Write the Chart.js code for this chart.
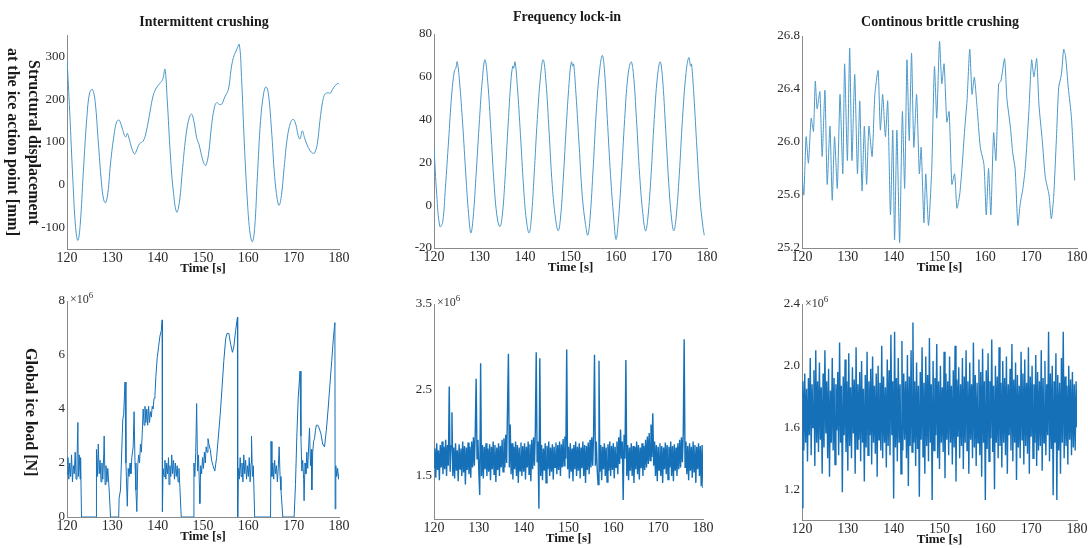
<!DOCTYPE html>
<html>
<head>
<meta charset="utf-8">
<title>Ice-structure interaction regimes</title>
<script src="https://cdn.jsdelivr.net/npm/chart.js@4.4.0/dist/chart.umd.min.js"></script>
<style>
  html, body { margin: 0; padding: 0; background: #fff; }
  #page { position: relative; width: 1088px; height: 548px; overflow: hidden; font-family: "Liberation Serif", "DejaVu Serif", serif; color: #1a1a1a; }
  canvas { position: absolute; }
  .ttl { position: absolute; width: 300px; text-align: center; font-weight: bold; font-size: 14px; line-height: 18px; }
  .ylab { position: absolute; writing-mode: vertical-rl; text-align: center; font-weight: bold; font-size: 16px; line-height: 21px; }
  .exp { position: absolute; font-size: 12px; color: #333; line-height: 14px; }
  .exp sup { font-size: 9px; }
</style>
</head>
<body>
<div id="page">
  <canvas id="dispInt"></canvas>
  <canvas id="dispLock"></canvas>
  <canvas id="dispCbr"></canvas>
  <canvas id="loadInt"></canvas>
  <canvas id="loadLock"></canvas>
  <canvas id="loadCbr"></canvas>

  <div class="ttl" style="left:54px; top:13px;">Intermittent crushing</div>
  <div class="ttl" style="left:417px; top:8px;">Frequency lock-in</div>
  <div class="ttl" style="left:790px; top:13px;">Continous brittle crushing</div>

  <div class="ylab" style="left:3px; top:30px; width:42px; height:224px;">Structural displacement<br>at the ice action point [mm]</div>
  <div class="ylab" style="left:21px; top:300px; width:21px; height:224px;">Global ice load [N]</div>

  <div class="exp" style="left:70px; top:288px;">×10<sup>6</sup></div>
  <div class="exp" style="left:437px; top:291px;">×10<sup>6</sup></div>
  <div class="exp" style="left:805px; top:292px;">×10<sup>6</sup></div>
</div>

<script>
// ---- data: [time s, value] ----
const timeTicks = [120, 130, 140, 150, 160, 170, 180];

// top row: structural displacement
const dispIntTicks = [-100, 0, 100, 200, 300];
const dispIntermittent = [
  [120.0, 295], [120.6, 170], [121.3, 10], [121.9, -100], [122.4, -130], [122.9, -95], [123.6, 30],
  [124.4, 160], [125.0, 215], [125.6, 223], [126.2, 195], [126.9, 100], [127.6, 5], [128.1, -35],
  [128.5, -42], [129.0, -20], [129.7, 60], [130.5, 125], [131.0, 148], [131.5, 151], [132.1, 135],
  [132.7, 115], [133.0, 112], [133.3, 120], [133.7, 108], [134.3, 85], [134.9, 72], [135.4, 82],
  [136.0, 96], [136.8, 102], [137.5, 125], [138.3, 170], [139.0, 208], [139.7, 226], [140.4, 236],
  [141.1, 246], [141.6, 270], [142.1, 200], [142.8, 70], [143.5, -20], [144.2, -64], [144.8, -40],
  [145.5, 40], [146.3, 120], [147.0, 158], [147.5, 165], [148.0, 148], [148.6, 110], [149.1, 95],
  [149.7, 68], [150.2, 50], [150.6, 45], [151.2, 70], [151.9, 140], [152.5, 180], [153.0, 192],
  [153.6, 188], [154.1, 188], [154.8, 205], [155.6, 223], [156.2, 270], [156.7, 297], [157.4, 315],
  [158.0, 328], [158.5, 250], [159.1, 100], [159.8, -40], [160.4, -115], [160.9, -133], [161.4, -100],
  [162.0, 20], [162.7, 150], [163.4, 215], [163.9, 229], [164.4, 215], [165.1, 130], [165.8, 20],
  [166.4, -35], [166.8, -48], [167.3, -25], [167.9, 40], [168.6, 110], [169.3, 145], [169.9, 153],
  [170.5, 140], [171.0, 115], [171.4, 107], [171.9, 126], [172.4, 110], [172.9, 95], [173.6, 80],
  [174.2, 74], [174.6, 74], [175.2, 95], [175.8, 150], [176.4, 195], [176.9, 212], [177.6, 215],
  [178.1, 214], [178.5, 222], [179.2, 232], [179.7, 237], [180.0, 235]
];

const dispLockTicks = [-20, 0, 20, 40, 60, 80];
const dispLockIn = [
  [120.0, 27], [120.6, 5], [121.3, -10], [121.9, -8], [122.5, 8], [123.2, 30], [123.9, 52], [124.5, 63],
  [124.8, 64], [125.1, 67], [125.6, 58], [126.3, 38], [127.0, 14], [127.6, -4], [128.1, -13], [128.6, -6],
  [129.3, 16], [130.0, 40], [130.6, 58], [131.2, 68], [131.8, 58], [132.5, 35], [133.2, 10], [133.9, -6],
  [134.5, -10], [135.0, -5], [135.6, 12], [136.3, 38], [136.9, 58], [137.3, 65], [137.5, 64], [137.8, 67],
  [138.3, 56], [139.0, 33], [139.7, 8], [140.3, -7], [140.9, -13], [141.4, -6], [142.0, 14], [142.7, 40],
  [143.4, 60], [144.0, 68], [144.6, 58], [145.3, 34], [146.0, 9], [146.7, -6], [147.3, -12], [147.8, -6],
  [148.4, 12], [149.1, 38], [149.8, 60], [150.2, 67], [150.5, 65], [150.7, 66], [151.2, 52], [151.9, 28],
  [152.6, 4], [153.3, -9], [153.8, -14], [154.3, -6], [155.0, 18], [155.7, 45], [156.4, 63], [157.0, 70],
  [157.5, 62], [158.1, 40], [158.8, 14], [159.5, -6], [160.0, -16], [160.5, -8], [161.2, 14], [161.9, 40],
  [162.6, 60], [163.3, 67], [163.8, 62], [164.5, 40], [165.2, 14], [165.9, -4], [166.5, -12], [167.0, -6],
  [167.7, 14], [168.4, 40], [169.1, 60], [169.7, 67], [170.2, 60], [170.9, 36], [171.6, 10], [172.2, -6],
  [172.7, -12], [173.2, -6], [173.9, 14], [174.6, 40], [175.4, 62], [176.0, 69], [176.4, 65], [176.6, 66],
  [177.1, 52], [177.8, 26], [178.5, 2], [179.1, -10], [179.4, -14]
];

const dispCbrTicks = [25.2, 25.6, 26.0, 26.4, 26.8];
const dispContinuous = [
  [120.0, 25.76], [120.4, 25.6], [120.9, 26.04], [121.4, 25.84], [122.0, 26.18], [122.5, 26.08], [122.9, 26.46],
  [123.3, 26.25], [123.9, 26.38], [124.4, 25.89], [125.0, 26.39], [125.5, 25.68], [126.1, 26.12], [126.6, 25.56],
  [127.1, 26.04], [127.7, 25.65], [128.3, 26.36], [128.9, 25.76], [129.3, 26.59], [129.9, 25.86], [130.4, 26.71],
  [130.9, 25.86], [131.5, 26.51], [132.1, 25.76], [132.6, 26.31], [133.1, 25.63], [133.6, 26.12], [134.1, 25.68],
  [134.6, 26.12], [135.3, 25.89], [135.9, 26.36], [136.6, 26.54], [137.1, 26.09], [137.6, 26.36], [138.2, 26.04],
  [138.7, 26.31], [139.3, 25.45], [139.8, 26.09], [140.2, 25.26], [140.7, 26.09], [141.3, 25.24], [141.9, 26.23],
  [142.4, 25.65], [142.9, 26.62], [143.4, 26.01], [143.9, 26.67], [144.4, 25.96], [145.0, 26.36], [145.6, 25.76],
  [146.0, 25.96], [146.6, 25.39], [147.0, 25.76], [147.6, 25.37], [148.3, 25.79], [148.9, 26.57], [149.4, 26.18],
  [150.0, 26.76], [150.5, 26.44], [151.0, 26.59], [151.6, 26.15], [152.1, 26.23], [152.7, 25.68], [153.3, 25.76],
  [153.8, 25.5], [154.4, 25.6], [154.9, 25.8], [155.5, 26.1], [156.0, 26.31], [156.6, 26.7], [157.1, 26.36],
  [157.6, 26.49], [158.2, 26.26], [158.9, 25.96], [159.7, 25.83], [160.2, 25.45], [160.7, 25.8], [161.2, 25.45],
  [161.8, 26.07], [162.3, 25.86], [162.9, 26.44], [163.4, 26.46], [164.2, 26.63], [164.7, 26.33], [165.5, 26.1],
  [166.0, 25.91], [166.5, 25.8], [167.1, 25.37], [167.6, 25.53], [168.2, 25.65], [168.7, 25.8], [169.5, 26.23],
  [170.1, 26.62], [170.6, 26.49], [171.2, 26.63], [171.7, 26.28], [172.4, 26.02], [173.1, 25.73], [173.9, 25.6],
  [174.4, 25.42], [174.9, 25.58], [175.5, 26.02], [176.0, 26.41], [176.6, 26.51], [177.1, 26.7], [177.5, 26.65],
  [178.1, 26.41], [178.8, 26.18], [179.5, 25.71]
];

// bottom row: global ice load, in units of 1e6 N
const loadIntTicks = [0, 2, 4, 6, 8];
const loadIntermittent = [
  [120.0, 1.6], [120.2, 2.2], [120.4, 1.4], [120.6, 2.0], [120.8, 1.5], [121.0, 2.3], [121.2, 1.3], [121.4, 1.9],
  [121.6, 1.6], [121.8, 2.4], [122.0, 1.4], [122.2, 2.1], [122.4, 3.5], [122.5, 1.5], [122.7, 2.3], [122.9, 1.4],
  [123.0, 2.2], [123.2, 0],
  [126.4, 0], [126.5, 2.5], [126.7, 1.5], [126.9, 2.7], [127.1, 1.6], [127.3, 2.1], [127.5, 1.3], [127.7, 2.0],
  [127.9, 1.4], [128.1, 2.3], [128.2, 3.0], [128.4, 1.2], [128.6, 1.9], [128.8, 1.3], [129.0, 1.8], [129.3, 1.0],
  [129.6, 0],
  [131.4, 0], [131.5, 0.7], [131.8, 1.0], [132.3, 3.6], [132.5, 3.8], [132.8, 5.0], [133.0, 2.0], [133.1, 1.5],
  [133.3, 0.4], [133.5, 1.8], [133.7, 1.5], [133.9, 2.0], [134.1, 1.6], [134.3, 2.2], [134.6, 2.6], [134.8, 3.9],
  [135.0, 2.0], [135.2, 1.0], [135.4, 0.2], [135.6, 1.9], [135.8, 2.3], [136.0, 2.0], [136.2, 2.7], [136.4, 2.4],
  [136.6, 3.1], [136.8, 4.0], [137.0, 3.4], [137.2, 4.1], [137.4, 3.5], [137.6, 4.0], [137.8, 3.4], [138.0, 4.1],
  [138.2, 3.5], [138.4, 3.9], [138.6, 3.7], [138.8, 4.1], [139.0, 4.0], [139.2, 4.4], [139.4, 4.5], [139.6, 5.2],
  [139.9, 5.9], [140.2, 6.3], [140.5, 6.7], [140.8, 6.9], [141.0, 7.3], [141.05, 0.2],
  [141.2, 1.8], [141.4, 1.5], [141.6, 2.1], [141.8, 1.4], [142.0, 2.0], [142.2, 1.6], [142.4, 2.2], [142.5, 1.2],
  [142.7, 1.9], [142.9, 1.5], [143.1, 2.3], [143.3, 1.6], [143.5, 2.1], [143.7, 1.4], [143.9, 2.0], [144.1, 1.5],
  [144.3, 1.9], [144.5, 1.3], [144.7, 1.8], [144.9, 1.1], [145.2, 0],
  [147.9, 0], [148.0, 2.0], [148.2, 1.5], [148.4, 2.4], [148.6, 4.2], [148.8, 1.7], [149.0, 2.3], [149.2, 1.2],
  [149.3, 0.5], [149.5, 1.9], [149.7, 1.6], [149.9, 2.2], [150.1, 1.8], [150.3, 2.4], [150.5, 2.0], [150.7, 2.6],
  [150.9, 2.4], [151.1, 2.9], [151.3, 2.7], [151.6, 2.5], [151.9, 2.1], [152.2, 1.9], [152.6, 1.7], [153.0, 2.2],
  [153.4, 3.0], [153.8, 3.8], [154.2, 4.8], [154.6, 5.8], [155.0, 6.6], [155.3, 6.8], [155.7, 6.8], [156.1, 6.4],
  [156.5, 6.1], [156.8, 6.3], [157.2, 6.9], [157.6, 7.4], [157.65, 0],
  [157.8, 1.8], [158.0, 1.4], [158.2, 2.2], [158.4, 1.5], [158.6, 2.0], [158.8, 1.3], [159.0, 2.3], [159.2, 1.6],
  [159.4, 2.1], [159.6, 1.4], [159.8, 1.9], [160.0, 1.5], [160.2, 2.2], [160.4, 1.3], [160.6, 2.0], [160.7, 3.0],
  [160.9, 1.5], [161.1, 1.9], [161.4, 0],
  [164.9, 0], [165.0, 2.8], [165.2, 1.5], [165.4, 2.0], [165.6, 1.4], [165.8, 2.1], [166.0, 1.6], [166.2, 1.9],
  [166.4, 1.3], [166.6, 1.8], [166.8, 2.6], [167.0, 1.5], [167.2, 1.0], [167.6, 0],
  [170.1, 0], [170.4, 1.2], [170.7, 3.0], [171.0, 4.4], [171.4, 5.4], [171.6, 3.0], [171.8, 1.7], [172.0, 2.1],
  [172.2, 1.4], [172.3, 0.6], [172.5, 2.0], [172.7, 1.6], [172.9, 2.4], [173.1, 1.8], [173.3, 2.6], [173.5, 3.3],
  [173.7, 1.9], [173.9, 2.5], [174.0, 1.0], [174.2, 2.4], [174.4, 2.8], [174.6, 2.9], [174.8, 3.2], [175.0, 3.4],
  [175.3, 3.4], [175.6, 3.3], [176.0, 3.1], [176.4, 2.7], [176.8, 2.6], [177.2, 3.2], [177.6, 4.0], [178.0, 4.9],
  [178.4, 5.8], [178.8, 6.7], [179.1, 7.2], [179.15, 0.3], [179.3, 1.9], [179.5, 1.5], [179.7, 1.8], [179.9, 1.4],
  [180.0, 1.6]
];

// lock-in and continuous load are sampled every 0.2 s from 120 s
const sampleStart = 120;
const sampleStep = 0.2;

const loadLockTicks = [1.5, 2.5, 3.5];
const loadLockIn = [
  1.6, 1.82, 1.48, 1.88, 1.57, 1.8, 1.45, 1.86, 1.6, 1.9, 1.52, 1.84, 1.58, 1.92, 1.5, 1.86, 1.62, 2.54, 1.55, 1.85,
  2.24, 1.5, 1.83, 1.47, 1.88, 1.56, 1.8, 1.44, 1.87, 1.58, 1.82, 1.5, 1.9, 1.54, 1.85, 1.4, 1.83, 1.57, 1.89, 1.52,
  1.84, 1.48, 1.9, 1.6, 1.95, 1.62, 2.0, 2.63, 1.7, 1.92, 1.55, 1.28, 2.81, 1.5, 1.86, 1.47, 1.84, 1.58, 1.88, 1.5,
  1.82, 1.55, 1.87, 1.45, 1.84, 1.58, 1.9, 1.52, 1.86, 1.43, 1.83, 1.57, 1.88, 1.5, 1.85, 1.6, 1.92, 1.55, 1.94, 1.6,
  1.98, 1.65, 2.3, 2.92, 1.6, 2.1, 1.52, 1.88, 1.46, 1.84, 1.58, 1.9, 1.5, 1.86, 1.42, 1.83, 1.56, 1.89, 1.5, 1.85,
  1.55, 1.88, 1.46, 1.84, 1.6, 1.9, 1.52, 1.87, 1.44, 1.92, 1.58, 1.95, 1.62, 2.02, 2.94, 1.66, 1.9, 1.12, 2.87, 1.5,
  1.86, 1.45, 1.82, 1.56, 1.88, 1.42, 1.85, 1.58, 1.9, 1.5, 1.83, 1.55, 1.87, 1.46, 1.84, 1.6, 1.89, 1.52, 1.86, 1.57,
  1.9, 1.5, 1.87, 1.6, 1.93, 1.62, 1.96, 1.7, 2.97, 1.58, 1.84, 1.47, 1.88, 1.55, 1.82, 1.44, 1.86, 1.58, 1.9, 1.5,
  1.84, 1.56, 1.88, 1.47, 1.83, 1.59, 1.9, 1.5, 1.86, 1.42, 1.85, 1.57, 1.89, 1.52, 1.92, 1.6, 1.95, 1.62, 2.0, 2.91,
  1.62, 1.9, 1.58, 1.4, 2.84, 1.55, 1.86, 1.45, 1.84, 1.58, 1.88, 1.5, 1.83, 1.43, 1.87, 1.56, 1.9, 1.5, 1.85, 1.57,
  1.88, 1.47, 1.84, 1.6, 1.9, 1.52, 1.95, 1.64, 2.04, 1.7, 1.9, 1.22, 1.98, 1.7, 2.85, 1.5, 1.86, 1.45, 1.83, 1.56,
  1.88, 1.5, 1.85, 1.42, 1.84, 1.58, 1.9, 1.52, 1.86, 1.46, 1.83, 1.59, 1.88, 1.5, 1.85, 1.57, 1.92, 1.6, 1.96, 1.64,
  2.0, 1.68, 2.1, 1.72, 2.23, 1.62, 1.9, 1.5, 1.86, 1.44, 1.84, 1.57, 1.88, 1.5, 1.85, 1.42, 1.83, 1.58, 1.89, 1.52,
  1.86, 1.46, 1.84, 1.6, 1.9, 1.5, 1.85, 1.44, 1.87, 1.56, 1.83, 1.5, 1.88, 1.58, 1.92, 1.6, 1.95, 1.66, 2.0, 3.09,
  1.6, 1.9, 1.52, 1.85, 1.45, 1.88, 1.56, 1.84, 1.48, 1.9, 1.55, 1.86, 1.42, 1.84, 1.58, 1.88, 1.5, 1.85, 1.38, 1.86,
  1.36
];

const loadCbrTicks = [1.2, 1.6, 2.0, 2.4];
const loadContinuous = [
  1.08, 1.9, 1.45, 1.95, 1.5, 1.85, 1.38, 1.92, 1.55, 2.05, 1.42, 1.88, 1.6, 1.97, 1.35, 2.1, 1.5, 1.9, 1.44, 2.02,
  1.52, 1.86, 1.3, 1.95, 1.47, 2.1, 1.56, 1.9, 1.4, 1.98, 1.28, 1.84, 1.5, 2.05, 1.45, 1.92, 1.36, 1.88, 1.58, 1.96,
  1.42, 2.15, 1.5, 1.87, 1.18, 1.93, 1.55, 2.04, 1.44, 1.9, 1.32, 2.08, 1.48, 1.86, 1.4, 1.99, 1.56, 1.91, 1.3, 2.12,
  1.46, 1.88, 1.52, 1.96, 1.38, 2.03, 1.5, 1.85, 1.25, 1.94, 1.47, 2.09, 1.42, 1.9, 1.55, 1.98, 1.36, 2.06, 1.5, 1.87,
  1.43, 1.95, 1.28, 2.0, 1.52, 1.89, 1.45, 2.13, 1.4, 1.93, 1.5, 1.86, 1.34, 2.04, 1.48, 1.97, 1.42, 2.2, 1.55, 1.9,
  1.14, 2.22, 1.47, 1.92, 1.38, 2.05, 1.5, 1.88, 1.3, 2.16, 1.45, 1.95, 1.52, 1.9, 1.4, 2.07, 1.22, 1.93, 1.48, 2.1,
  1.44, 2.28, 1.5, 1.9, 1.35, 2.02, 1.46, 1.87, 1.15, 1.96, 1.52, 2.12, 1.41, 1.89, 1.3, 2.06, 1.48, 1.94, 1.38, 2.18,
  1.5, 1.88, 1.13, 2.03, 1.45, 1.92, 1.55, 2.14, 1.4, 1.9, 1.33, 2.0, 1.5, 1.86, 1.44, 2.09, 1.27, 1.95, 1.52, 1.9,
  1.42, 2.06, 1.5, 1.87, 1.36, 1.97, 1.47, 2.13, 1.25, 1.91, 1.54, 1.99, 1.4, 1.88, 1.48, 2.05, 1.33, 1.93, 1.5, 2.1,
  1.45, 1.9, 1.3, 2.02, 1.52, 1.88, 1.4, 2.15, 1.47, 1.94, 1.35, 1.89, 1.5, 2.04, 1.42, 1.96, 1.28, 2.11, 1.5, 1.9,
  1.13, 1.97, 1.46, 2.08, 1.38, 1.9, 1.53, 2.17, 1.44, 1.87, 1.2, 2.0, 1.5, 1.93, 1.4, 2.12, 1.48, 1.89, 1.34, 2.03,
  1.5, 1.92, 1.42, 2.06, 1.3, 1.88, 1.55, 1.98, 1.45, 2.14, 1.38, 1.91, 1.5, 2.02, 1.26, 1.94, 1.47, 1.87, 1.4, 2.09,
  1.52, 1.95, 1.36, 2.04, 1.48, 1.89, 1.43, 2.12, 1.3, 1.93, 1.54, 2.0, 1.4, 1.88, 1.5, 2.07, 1.35, 1.96, 1.45, 1.9,
  1.48, 2.1, 1.32, 1.92, 1.5, 2.03, 1.42, 1.88, 1.55, 2.22, 1.38, 1.95, 1.46, 2.0, 1.16, 1.9, 1.5, 2.08, 1.13, 1.94,
  1.45, 1.89, 1.3, 2.05, 1.5, 2.22, 1.4, 1.93, 1.48, 1.87, 1.36, 2.0, 1.52, 1.91, 1.42, 1.96, 1.47, 1.88, 1.45, 1.9,
  1.6
];

// ---- chart helpers ----
const Y_AXIS_W = 40;
const X_AXIS_H = 27;
const PAD_TOP = 10;
const PAD_RIGHT = 16;

function pairsToPoints(pairs) {
  return pairs.map(p => ({ x: p[0], y: p[1] }));
}

function sampledToPoints(values) {
  return values.map((v, i) => ({ x: sampleStart + i * sampleStep, y: v }));
}

function makePanel(id, area, yRange, yTicks, points, opts) {
  const canvas = document.getElementById(id);
  const w = area.right - area.left + Y_AXIS_W + PAD_RIGHT;
  const h = area.bottom - area.top + PAD_TOP + X_AXIS_H;
  canvas.width = w;
  canvas.height = h;
  canvas.style.left = (area.left - Y_AXIS_W) + 'px';
  canvas.style.top = (area.top - PAD_TOP) + 'px';

  const axisBorder = { display: true, color: '#8a8a8a', width: 1 };
  const noGrid = { display: false, drawTicks: false, tickLength: 0 };

  return new Chart(canvas.getContext('2d'), {
    type: 'line',
    data: {
      datasets: [{
        data: points,
        borderColor: opts.color,
        borderWidth: opts.width || 1,
        pointRadius: 0,
        tension: opts.tension || 0,
        fill: false
      }]
    },
    options: {
      responsive: false,
      animation: false,
      devicePixelRatio: 1,
      layout: { padding: { top: PAD_TOP, right: PAD_RIGHT, left: 0, bottom: 0 } },
      plugins: { legend: { display: false }, tooltip: { enabled: false } },
      scales: {
        x: {
          type: 'linear',
          min: 120,
          max: 180,
          afterBuildTicks: s => { s.ticks = timeTicks.map(v => ({ value: v })); },
          afterFit: s => { s.height = X_AXIS_H; },
          grid: noGrid,
          border: axisBorder,
          ticks: { font: { family: 'Liberation Serif', size: 14 }, color: '#2a2a2a', padding: 1, maxRotation: 0, autoSkip: false },
          title: {
            display: true,
            text: 'Time [s]',
            color: '#1a1a1a',
            font: { family: 'Liberation Serif', size: 13, weight: 'bold' },
            padding: 0
          }
        },
        y: {
          type: 'linear',
          min: yRange[0],
          max: yRange[1],
          afterBuildTicks: s => { s.ticks = yTicks.map(v => ({ value: v })); },
          afterFit: s => { s.width = Y_AXIS_W; },
          grid: noGrid,
          border: axisBorder,
          ticks: {
            font: { family: 'Liberation Serif', size: 13 },
            color: '#2a2a2a',
            padding: 2,
            callback: opts.fmt || (v => String(v))
          }
        }
      }
    }
  });
}

const oneDecimal = v => v.toFixed(1);
const topColor = '#4a98c9';
const bottomColor = '#1570b8';

document.addEventListener('DOMContentLoaded', () => {
  makePanel('dispInt', { left: 67, right: 339, top: 35, bottom: 249 }, [-150, 350], dispIntTicks,
    pairsToPoints(dispIntermittent), { color: topColor, tension: 0.4 });
  makePanel('dispLock', { left: 434, right: 707, top: 34, bottom: 248 }, [-20, 80], dispLockTicks,
    pairsToPoints(dispLockIn), { color: topColor, tension: 0.4 });
  makePanel('dispCbr', { left: 802, right: 1077, top: 36, bottom: 248 }, [25.2, 26.8], dispCbrTicks,
    pairsToPoints(dispContinuous), { color: topColor, tension: 0.2, fmt: oneDecimal });

  makePanel('loadInt', { left: 67, right: 339, top: 301, bottom: 517 }, [0, 8], loadIntTicks,
    pairsToPoints(loadIntermittent), { color: bottomColor });
  makePanel('loadLock', { left: 434, right: 703, top: 304, bottom: 519 }, [1.0, 3.5], loadLockTicks,
    sampledToPoints(loadLockIn), { color: bottomColor, width: 1.4 });
  makePanel('loadCbr', { left: 802, right: 1077, top: 304, bottom: 520 }, [1.0, 2.4], loadCbrTicks,
    sampledToPoints(loadContinuous), { color: bottomColor, width: 1.4, fmt: oneDecimal });
});
</script>
</body>
</html>
